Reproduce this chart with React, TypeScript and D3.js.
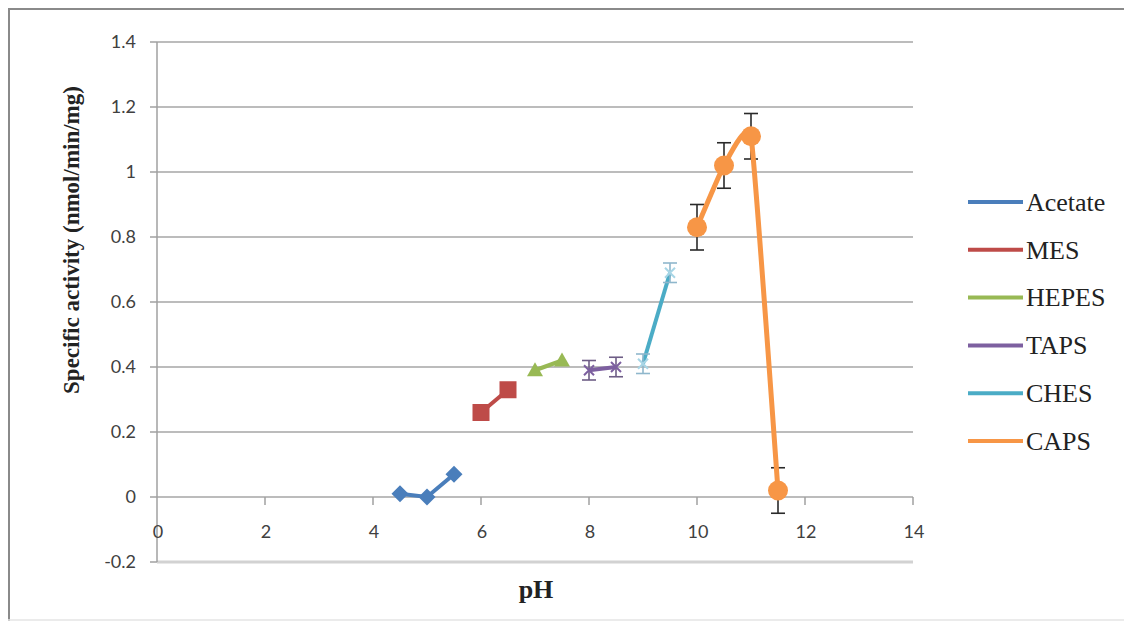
import React from "react";
import * as d3 from "d3";

const seriesNames = ["Acetate", "MES", "HEPES", "TAPS", "CHES", "CAPS"];
const seriesColors = ["#4a7ebb", "#be4b48", "#98b954", "#7d60a0", "#4bacc6", "#f79646"];
const acetateX = [4.5, 5, 5.5];
const acetateY = [0.01, 0.0, 0.07];
const mesX = [6, 6.5];
const mesY = [0.26, 0.33];
const hepesX = [7, 7.5];
const hepesY = [0.39, 0.42];
const tapsX = [8, 8.5];
const tapsY = [0.39, 0.4];
const tapsErr = [0.03, 0.03];
const chesX = [9, 9.5];
const chesY = [0.41, 0.69];
const chesErr = [0.03, 0.03];
const capsX = [10, 10.5, 11, 11.5];
const capsY = [0.83, 1.02, 1.11, 0.02];
const capsErr = [0.07, 0.07, 0.07, 0.07];
const xTicks = [0, 2, 4, 6, 8, 10, 12, 14];
const yTicks = [-0.2, 0, 0.2, 0.4, 0.6, 0.8, 1, 1.2, 1.4];

const W = 1130, H = 628;
const x = d3.scaleLinear().domain([0, 14]).range([157, 913]);
const y = d3.scaleLinear().domain([-0.2, 1.4]).range([562, 42]);

type P = [number, number];
const zip = (a: number[], b: number[]): P[] => a.map((v, i) => [v, b[i]]);

const straight = d3.line<P>().x(d => x(d[0])).y(d => y(d[1]));
const smooth = d3.line<P>().x(d => x(d[0])).y(d => y(d[1])).curve(d3.curveCardinal.tension(0.65));

function ErrBars({ pts, err, color, cap }: { pts: P[]; err: number[]; color: string; cap: number }) {
  return (
    <g stroke={color} strokeWidth={1.6} fill="none">
      {pts.map((p, i) => {
        const cx = x(p[0]);
        const t = y(p[1] + err[i]);
        const b = y(p[1] - err[i]);
        return (
          <g key={i}>
            <line x1={cx} x2={cx} y1={t} y2={b} />
            <line x1={cx - cap} x2={cx + cap} y1={t} y2={t} />
            <line x1={cx - cap} x2={cx + cap} y1={b} y2={b} />
          </g>
        );
      })}
    </g>
  );
}

export default function App() {
  const acetate = zip(acetateX, acetateY);
  const mes = zip(mesX, mesY);
  const hepes = zip(hepesX, hepesY);
  const taps = zip(tapsX, tapsY);
  const ches = zip(chesX, chesY);
  const caps = zip(capsX, capsY);
  const tickFont = "Lato, 'Open Sans', sans-serif";
  const serif = "'Liberation Serif', 'Times New Roman', serif";
  return (
    <svg width={W} height={H} style={{ position: "absolute", left: 0, top: 0, background: "#fff" }}>
      <rect x={0} y={0} width={W} height={H} fill="#fff" />
      {/* frame */}
      <line x1={8} x2={1124} y1={9} y2={9} stroke="#8a8a8a" strokeWidth={2} />
      <line x1={9} x2={9} y1={8} y2={621} stroke="#8a8a8a" strokeWidth={2} />
      <line x1={8} x2={1124} y1={620} y2={620} stroke="#e4e4e4" strokeWidth={1.5} />
      {/* gridlines */}
      {yTicks.map(t => (
        <line key={t} x1={x(0)} x2={x(14)} y1={y(t)} y2={y(t)}
          stroke={t === -0.2 ? "#d2d2d2" : "#a6a6a6"} strokeWidth={t === -0.2 ? 3 : 1.5} />
      ))}
      {/* y axis */}
      <line x1={x(0)} x2={x(0)} y1={y(1.4)} y2={y(-0.2)} stroke="#a0a0a0" strokeWidth={1.5} />
      {yTicks.map(t => (
        <line key={"yt" + t} x1={x(0) - 7} x2={x(0)} y1={y(t)} y2={y(t)} stroke="#a0a0a0" strokeWidth={1.5} />
      ))}
      {xTicks.filter(t => t > 0).map(t => (
        <line key={"xt" + t} x1={x(t)} x2={x(t)} y1={y(0)} y2={y(0) + 8} stroke="#a0a0a0" strokeWidth={1.5} />
      ))}
      {/* tick labels */}
      {yTicks.map(t => (
        <text key={"yl" + t} x={136} y={y(t)} dy="0.35em" textAnchor="end" fontFamily={tickFont}
          fontSize={18} fill="#404040">{String(+t.toFixed(1))}</text>
      ))}
      {xTicks.map(t => (
        <text key={"xl" + t} x={x(t) + 1} y={532} dy="0.35em" textAnchor="middle" fontFamily={tickFont}
          fontSize={18} fill="#404040">{t}</text>
      ))}
      {/* axis titles */}
      <text transform={`translate(79,240) rotate(-90)`} textAnchor="middle" fontFamily={serif}
        fontWeight="bold" fontSize={23} fill="#222">Specific activity (nmol/min/mg)</text>
      <text x={536} y={598} textAnchor="middle" fontFamily={serif} fontWeight="bold" fontSize={26} fill="#222">pH</text>

      {/* Acetate */}
      <path d={straight(acetate) ?? ""} fill="none" stroke={seriesColors[0]} strokeWidth={4} />
      {acetate.map((p, i) => {
        const cx = x(p[0]), cy = y(p[1]), r = 8.5;
        return <path key={i} d={`M${cx},${cy - r}L${cx + r},${cy}L${cx},${cy + r}L${cx - r},${cy}Z`} fill={seriesColors[0]} />;
      })}
      {/* MES */}
      <path d={straight(mes) ?? ""} fill="none" stroke={seriesColors[1]} strokeWidth={4} />
      {mes.map((p, i) => (
        <rect key={i} x={x(p[0]) - 8.5} y={y(p[1]) - 8.5} width={17} height={17} fill={seriesColors[1]} />
      ))}
      {/* HEPES */}
      <path d={straight(hepes) ?? ""} fill="none" stroke={seriesColors[2]} strokeWidth={4} />
      {hepes.map((p, i) => {
        const cx = x(p[0]), cy = y(p[1]);
        return <path key={i} d={`M${cx},${cy - 8}L${cx + 8},${cy + 6}L${cx - 8},${cy + 6}Z`} fill={seriesColors[2]} />;
      })}
      {/* TAPS */}
      <path d={straight(taps) ?? ""} fill="none" stroke={seriesColors[3]} strokeWidth={4} />
      <ErrBars pts={taps} err={tapsErr} color="#6e5d86" cap={7} />
      {taps.map((p, i) => {
        const cx = x(p[0]), cy = y(p[1]), r = 5;
        return <path key={i} d={`M${cx - r},${cy - r}L${cx + r},${cy + r}M${cx + r},${cy - r}L${cx - r},${cy + r}`} stroke={seriesColors[3]} strokeWidth={2} />;
      })}
      {/* CHES */}
      <path d={straight(ches) ?? ""} fill="none" stroke={seriesColors[4]} strokeWidth={4} />
      <ErrBars pts={ches} err={chesErr} color="#8fb7cc" cap={7} />
      {ches.map((p, i) => {
        const cx = x(p[0]), cy = y(p[1]), r = 5;
        return <path key={i} d={`M${cx - r},${cy - r}L${cx + r},${cy + r}M${cx + r},${cy - r}L${cx - r},${cy + r}`} stroke="#a8d6e6" strokeWidth={2} />;
      })}
      {/* CAPS */}
      <ErrBars pts={caps} err={capsErr} color="#2a2a2a" cap={7} />
      <path d={smooth(caps) ?? ""} fill="none" stroke={seriesColors[5]} strokeWidth={5} />
      {caps.map((p, i) => (
        <circle key={i} cx={x(p[0])} cy={y(p[1])} r={10} fill={seriesColors[5]} />
      ))}

      {/* legend */}
      {seriesNames.map((n, i) => {
        const ly = 202 + i * 47.8;
        return (
          <g key={n}>
            <line x1={968} x2={1023} y1={ly} y2={ly} stroke={seriesColors[i]} strokeWidth={4} />
            <text x={1026} y={ly} dy="0.34em" fontFamily={serif} fontSize={26} fill="#222">{n}</text>
          </g>
        );
      })}
    </svg>
  );
}
